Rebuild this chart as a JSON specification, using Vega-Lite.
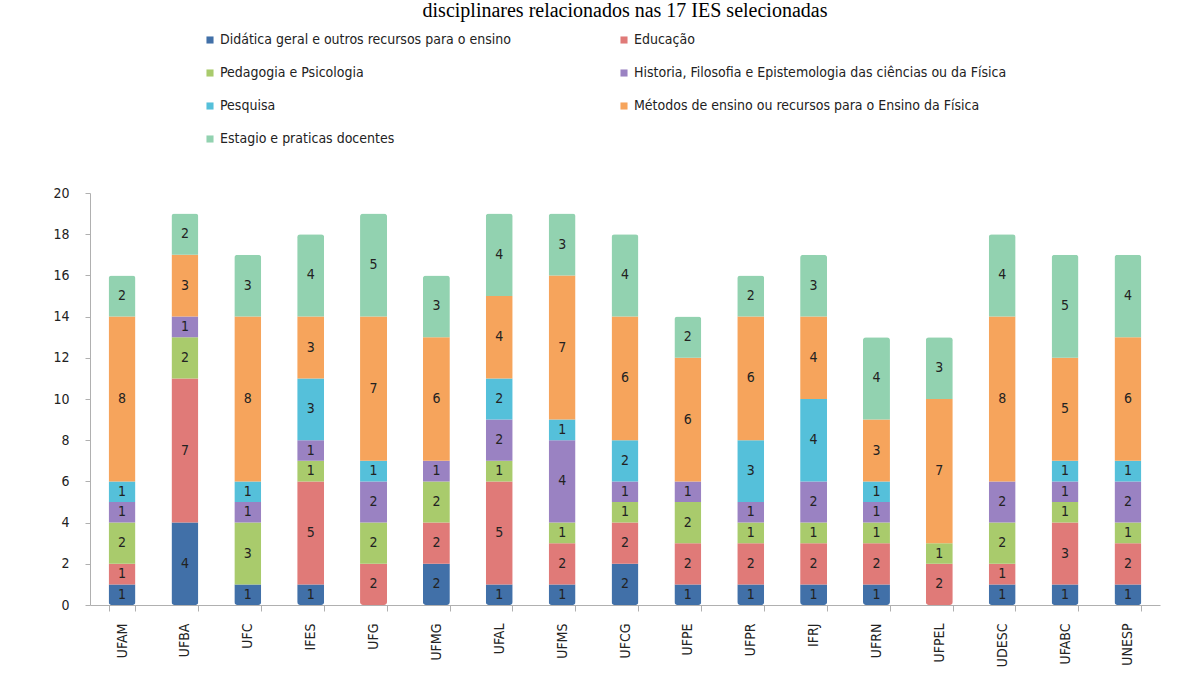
{
  "$schema": "https://vega.github.io/schema/vega-lite/v6.json",
  "width": 1070,
  "height": 412,
  "autosize": "none",
  "padding": {"left": 90, "top": 193, "right": 42, "bottom": 80},
  "background": "white",
  "title": {
    "text": "disciplinares relacionados nas 17 IES selecionadas",
    "font": "Liberation Serif",
    "fontSize": 20,
    "fontWeight": "normal",
    "color": "#000000",
    "anchor": "middle",
    "offset": 12
  },
  "config": {
    "view": {"stroke": null},
    "font": "Liberation Sans Narrow, DejaVu Sans Condensed, sans-serif"
  },
  "datasets": {
    "cats": [
      {"k": 1, "cat": "Didática geral e outros recursos para o ensino"},
      {"k": 2, "cat": "Educação"},
      {"k": 3, "cat": "Pedagogia e Psicologia"},
      {"k": 4, "cat": "Historia, Filosofia e Epistemologia das ciências ou da Física"},
      {"k": 5, "cat": "Pesquisa"},
      {"k": 6, "cat": "Métodos de ensino ou recursos para o Ensino da Física"},
      {"k": 7, "cat": "Estagio e praticas docentes"}
    ],
    "d": [
      {"i": "UFAM", "k": 1, "v": 1}, {"i": "UFAM", "k": 2, "v": 1}, {"i": "UFAM", "k": 3, "v": 2}, {"i": "UFAM", "k": 4, "v": 1}, {"i": "UFAM", "k": 5, "v": 1}, {"i": "UFAM", "k": 6, "v": 8}, {"i": "UFAM", "k": 7, "v": 2},
      {"i": "UFBA", "k": 1, "v": 4}, {"i": "UFBA", "k": 2, "v": 7}, {"i": "UFBA", "k": 3, "v": 2}, {"i": "UFBA", "k": 4, "v": 1}, {"i": "UFBA", "k": 6, "v": 3}, {"i": "UFBA", "k": 7, "v": 2},
      {"i": "UFC", "k": 1, "v": 1}, {"i": "UFC", "k": 3, "v": 3}, {"i": "UFC", "k": 4, "v": 1}, {"i": "UFC", "k": 5, "v": 1}, {"i": "UFC", "k": 6, "v": 8}, {"i": "UFC", "k": 7, "v": 3},
      {"i": "IFES", "k": 1, "v": 1}, {"i": "IFES", "k": 2, "v": 5}, {"i": "IFES", "k": 3, "v": 1}, {"i": "IFES", "k": 4, "v": 1}, {"i": "IFES", "k": 5, "v": 3}, {"i": "IFES", "k": 6, "v": 3}, {"i": "IFES", "k": 7, "v": 4},
      {"i": "UFG", "k": 2, "v": 2}, {"i": "UFG", "k": 3, "v": 2}, {"i": "UFG", "k": 4, "v": 2}, {"i": "UFG", "k": 5, "v": 1}, {"i": "UFG", "k": 6, "v": 7}, {"i": "UFG", "k": 7, "v": 5},
      {"i": "UFMG", "k": 1, "v": 2}, {"i": "UFMG", "k": 2, "v": 2}, {"i": "UFMG", "k": 3, "v": 2}, {"i": "UFMG", "k": 4, "v": 1}, {"i": "UFMG", "k": 6, "v": 6}, {"i": "UFMG", "k": 7, "v": 3},
      {"i": "UFAL", "k": 1, "v": 1}, {"i": "UFAL", "k": 2, "v": 5}, {"i": "UFAL", "k": 3, "v": 1}, {"i": "UFAL", "k": 4, "v": 2}, {"i": "UFAL", "k": 5, "v": 2}, {"i": "UFAL", "k": 6, "v": 4}, {"i": "UFAL", "k": 7, "v": 4},
      {"i": "UFMS", "k": 1, "v": 1}, {"i": "UFMS", "k": 2, "v": 2}, {"i": "UFMS", "k": 3, "v": 1}, {"i": "UFMS", "k": 4, "v": 4}, {"i": "UFMS", "k": 5, "v": 1}, {"i": "UFMS", "k": 6, "v": 7}, {"i": "UFMS", "k": 7, "v": 3},
      {"i": "UFCG", "k": 1, "v": 2}, {"i": "UFCG", "k": 2, "v": 2}, {"i": "UFCG", "k": 3, "v": 1}, {"i": "UFCG", "k": 4, "v": 1}, {"i": "UFCG", "k": 5, "v": 2}, {"i": "UFCG", "k": 6, "v": 6}, {"i": "UFCG", "k": 7, "v": 4},
      {"i": "UFPE", "k": 1, "v": 1}, {"i": "UFPE", "k": 2, "v": 2}, {"i": "UFPE", "k": 3, "v": 2}, {"i": "UFPE", "k": 4, "v": 1}, {"i": "UFPE", "k": 6, "v": 6}, {"i": "UFPE", "k": 7, "v": 2},
      {"i": "UFPR", "k": 1, "v": 1}, {"i": "UFPR", "k": 2, "v": 2}, {"i": "UFPR", "k": 3, "v": 1}, {"i": "UFPR", "k": 4, "v": 1}, {"i": "UFPR", "k": 5, "v": 3}, {"i": "UFPR", "k": 6, "v": 6}, {"i": "UFPR", "k": 7, "v": 2},
      {"i": "IFRJ", "k": 1, "v": 1}, {"i": "IFRJ", "k": 2, "v": 2}, {"i": "IFRJ", "k": 3, "v": 1}, {"i": "IFRJ", "k": 4, "v": 2}, {"i": "IFRJ", "k": 5, "v": 4}, {"i": "IFRJ", "k": 6, "v": 4}, {"i": "IFRJ", "k": 7, "v": 3},
      {"i": "UFRN", "k": 1, "v": 1}, {"i": "UFRN", "k": 2, "v": 2}, {"i": "UFRN", "k": 3, "v": 1}, {"i": "UFRN", "k": 4, "v": 1}, {"i": "UFRN", "k": 5, "v": 1}, {"i": "UFRN", "k": 6, "v": 3}, {"i": "UFRN", "k": 7, "v": 4},
      {"i": "UFPEL", "k": 2, "v": 2}, {"i": "UFPEL", "k": 3, "v": 1}, {"i": "UFPEL", "k": 6, "v": 7}, {"i": "UFPEL", "k": 7, "v": 3},
      {"i": "UDESC", "k": 1, "v": 1}, {"i": "UDESC", "k": 2, "v": 1}, {"i": "UDESC", "k": 3, "v": 2}, {"i": "UDESC", "k": 4, "v": 2}, {"i": "UDESC", "k": 6, "v": 8}, {"i": "UDESC", "k": 7, "v": 4},
      {"i": "UFABC", "k": 1, "v": 1}, {"i": "UFABC", "k": 2, "v": 3}, {"i": "UFABC", "k": 3, "v": 1}, {"i": "UFABC", "k": 4, "v": 1}, {"i": "UFABC", "k": 5, "v": 1}, {"i": "UFABC", "k": 6, "v": 5}, {"i": "UFABC", "k": 7, "v": 5},
      {"i": "UNESP", "k": 1, "v": 1}, {"i": "UNESP", "k": 2, "v": 2}, {"i": "UNESP", "k": 3, "v": 1}, {"i": "UNESP", "k": 4, "v": 2}, {"i": "UNESP", "k": 5, "v": 1}, {"i": "UNESP", "k": 6, "v": 6}, {"i": "UNESP", "k": 7, "v": 4}
    ]
  },
  "data": {"name": "d"},
  "transform": [
    {"lookup": "k", "from": {"data": {"name": "cats"}, "key": "k", "fields": ["cat"]}}
  ],
  "encoding": {
    "x": {
      "field": "i",
      "type": "nominal",
      "sort": null,
      "title": null,
      "scale": {"paddingInner": 0.58, "paddingOuter": 0.3},
      "axis": {
        "labelAngle": 270,
        "labelFontSize": 14,
        "labelColor": "#222222",
        "labelPadding": 12,
        "domainColor": "#b0b0b0",
        "tickColor": "#b0b0b0",
        "tickBand": "extent",
        "tickSize": 6
      }
    },
    "y": {
      "field": "v",
      "type": "quantitative",
      "stack": "zero",
      "title": null,
      "scale": {"domain": [0, 20]},
      "axis": {
        "values": [0, 2, 4, 6, 8, 10, 12, 14, 16, 18, 20],
        "grid": false,
        "labelFontSize": 14,
        "labelColor": "#222222",
        "domainColor": "#b0b0b0",
        "tickColor": "#b0b0b0",
        "tickSize": 5,
        "labelPadding": 16
      }
    },
    "order": {"field": "k", "type": "quantitative"}
  },
  "layer": [
    {
      "mark": {"type": "bar", "width": 27, "cornerRadius": 3},
      "encoding": {
        "color": {
          "field": "cat",
          "type": "nominal",
          "scale": {
            "domain": [
              "Didática geral e outros recursos para o ensino",
              "Educação",
              "Pedagogia e Psicologia",
              "Historia, Filosofia e Epistemologia das ciências ou da Física",
              "Pesquisa",
              "Métodos de ensino ou recursos para o Ensino da Física",
              "Estagio e praticas docentes"
            ],
            "range": ["#4170a8", "#e07a78", "#a9cb6c", "#9a82c2", "#55c0da", "#f6a45c", "#92d2b0"]
          },
          "legend": {
            "title": null,
            "orient": "none",
            "legendX": 113,
            "legendY": -160,
            "columns": 2,
            "direction": "horizontal",
            "symbolType": "square",
            "symbolSize": 50,
            "symbolStrokeWidth": 0,
            "labelFontSize": 14,
            "labelColor": "#222222",
            "labelLimit": 500,
            "labelOffset": 3,
            "rowPadding": 19,
            "columnPadding": 106
          }
        }
      }
    },
    {
      "mark": {"type": "text", "fontSize": 14, "color": "#222222"},
      "encoding": {
        "y": {"field": "v", "type": "quantitative", "stack": "zero", "bandPosition": 0.5},
        "detail": {"field": "k"},
        "text": {"field": "v", "type": "quantitative"}
      }
    }
  ]
}
